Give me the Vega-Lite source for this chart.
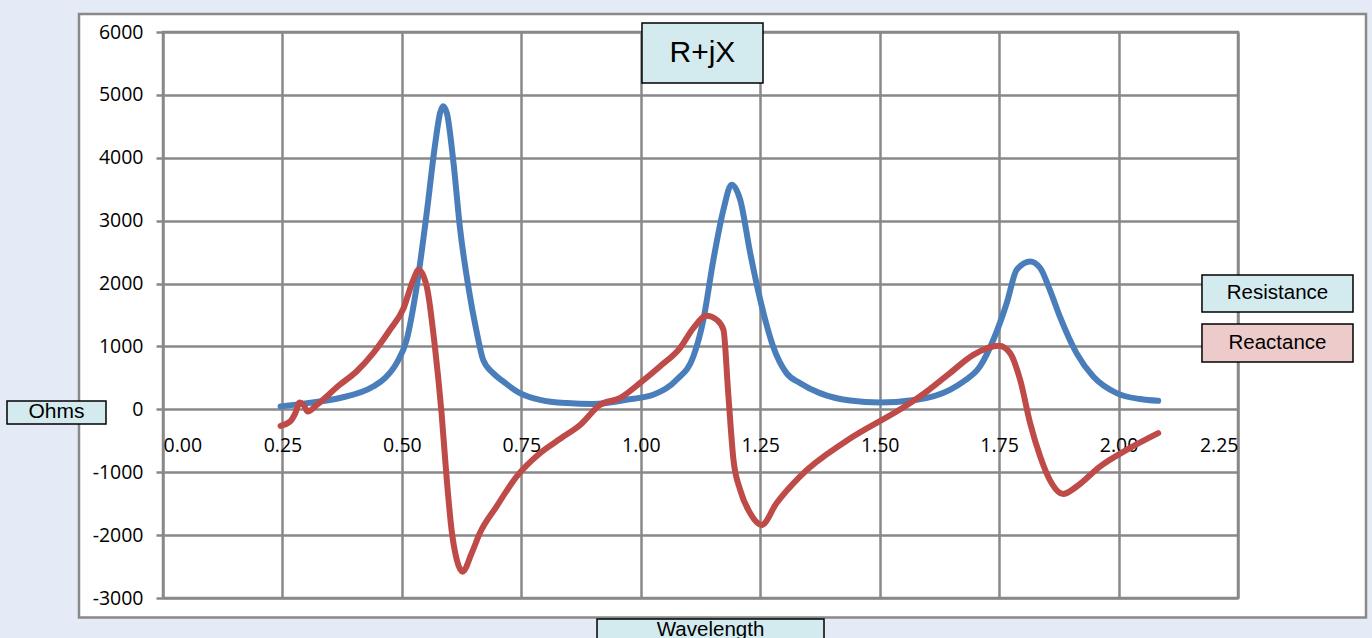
{
  "$schema": "https://vega.github.io/schema/vega-lite/v6.json",
  "width": 1075,
  "height": 566,
  "autosize": {"type": "none"},
  "padding": {"left": 163, "top": 32, "right": 134, "bottom": 40},
  "background": "white",
  "config": {
    "view": {"stroke": "#898989", "strokeWidth": 2.5},
    "axis": {
      "gridColor": "#898989",
      "gridWidth": 2.5,
      "gridOpacity": 1,
      "labelFont": "Open Sans",
      "labelFontSize": 19.5,
      "labelColor": "#000000",
      "domain": false
    }
  },
  "layer": [
    {
      "data": {"values": [
        {"wl": 0.246, "ohms": 45, "series": "Resistance"},
        {"wl": 0.301, "ohms": 99, "series": "Resistance"},
        {"wl": 0.370, "ohms": 180, "series": "Resistance"},
        {"wl": 0.440, "ohms": 363, "series": "Resistance"},
        {"wl": 0.465, "ohms": 500, "series": "Resistance"},
        {"wl": 0.489, "ohms": 735, "series": "Resistance"},
        {"wl": 0.510, "ohms": 1106, "series": "Resistance"},
        {"wl": 0.531, "ohms": 1954, "series": "Resistance"},
        {"wl": 0.552, "ohms": 3123, "series": "Resistance"},
        {"wl": 0.569, "ohms": 4183, "series": "Resistance"},
        {"wl": 0.580, "ohms": 4714, "series": "Resistance"},
        {"wl": 0.586, "ohms": 4820, "series": "Resistance"},
        {"wl": 0.594, "ohms": 4714, "series": "Resistance"},
        {"wl": 0.608, "ohms": 3918, "series": "Resistance"},
        {"wl": 0.622, "ohms": 2857, "series": "Resistance"},
        {"wl": 0.639, "ohms": 1954, "series": "Resistance"},
        {"wl": 0.657, "ohms": 1213, "series": "Resistance"},
        {"wl": 0.670, "ohms": 788, "series": "Resistance"},
        {"wl": 0.691, "ohms": 576, "series": "Resistance"},
        {"wl": 0.712, "ohms": 443, "series": "Resistance"},
        {"wl": 0.747, "ohms": 258, "series": "Resistance"},
        {"wl": 0.789, "ohms": 151, "series": "Resistance"},
        {"wl": 0.845, "ohms": 99, "series": "Resistance"},
        {"wl": 0.901, "ohms": 85, "series": "Resistance"},
        {"wl": 0.970, "ohms": 151, "series": "Resistance"},
        {"wl": 1.026, "ohms": 231, "series": "Resistance"},
        {"wl": 1.075, "ohms": 470, "series": "Resistance"},
        {"wl": 1.110, "ohms": 840, "series": "Resistance"},
        {"wl": 1.131, "ohms": 1424, "series": "Resistance"},
        {"wl": 1.152, "ohms": 2379, "series": "Resistance"},
        {"wl": 1.173, "ohms": 3175, "series": "Resistance"},
        {"wl": 1.190, "ohms": 3573, "series": "Resistance"},
        {"wl": 1.208, "ohms": 3334, "series": "Resistance"},
        {"wl": 1.229, "ohms": 2486, "series": "Resistance"},
        {"wl": 1.250, "ohms": 1743, "series": "Resistance"},
        {"wl": 1.277, "ohms": 1000, "series": "Resistance"},
        {"wl": 1.305, "ohms": 576, "series": "Resistance"},
        {"wl": 1.333, "ohms": 420, "series": "Resistance"},
        {"wl": 1.375, "ohms": 258, "series": "Resistance"},
        {"wl": 1.438, "ohms": 140, "series": "Resistance"},
        {"wl": 1.501, "ohms": 108, "series": "Resistance"},
        {"wl": 1.577, "ohms": 151, "series": "Resistance"},
        {"wl": 1.647, "ohms": 310, "series": "Resistance"},
        {"wl": 1.675, "ohms": 440, "series": "Resistance"},
        {"wl": 1.710, "ohms": 682, "series": "Resistance"},
        {"wl": 1.738, "ohms": 1106, "series": "Resistance"},
        {"wl": 1.766, "ohms": 1690, "series": "Resistance"},
        {"wl": 1.787, "ohms": 2220, "series": "Resistance"},
        {"wl": 1.815, "ohms": 2352, "series": "Resistance"},
        {"wl": 1.836, "ohms": 2247, "series": "Resistance"},
        {"wl": 1.856, "ohms": 1902, "series": "Resistance"},
        {"wl": 1.877, "ohms": 1477, "series": "Resistance"},
        {"wl": 1.912, "ohms": 894, "series": "Resistance"},
        {"wl": 1.947, "ohms": 522, "series": "Resistance"},
        {"wl": 1.996, "ohms": 258, "series": "Resistance"},
        {"wl": 2.045, "ohms": 163, "series": "Resistance"},
        {"wl": 2.083, "ohms": 135, "series": "Resistance"},
        {"wl": 0.246, "ohms": -263, "series": "Reactance"},
        {"wl": 0.266, "ohms": -194, "series": "Reactance"},
        {"wl": 0.277, "ohms": -61, "series": "Reactance"},
        {"wl": 0.286, "ohms": 108, "series": "Reactance"},
        {"wl": 0.294, "ohms": 72, "series": "Reactance"},
        {"wl": 0.303, "ohms": -35, "series": "Reactance"},
        {"wl": 0.322, "ohms": 72, "series": "Reactance"},
        {"wl": 0.370, "ohms": 390, "series": "Reactance"},
        {"wl": 0.405, "ohms": 602, "series": "Reactance"},
        {"wl": 0.440, "ohms": 894, "series": "Reactance"},
        {"wl": 0.475, "ohms": 1265, "series": "Reactance"},
        {"wl": 0.503, "ohms": 1600, "series": "Reactance"},
        {"wl": 0.524, "ohms": 2061, "series": "Reactance"},
        {"wl": 0.535, "ohms": 2220, "series": "Reactance"},
        {"wl": 0.552, "ohms": 1954, "series": "Reactance"},
        {"wl": 0.569, "ohms": 1000, "series": "Reactance"},
        {"wl": 0.583, "ohms": -60, "series": "Reactance"},
        {"wl": 0.594, "ohms": -1122, "series": "Reactance"},
        {"wl": 0.604, "ohms": -1918, "series": "Reactance"},
        {"wl": 0.615, "ohms": -2395, "series": "Reactance"},
        {"wl": 0.627, "ohms": -2581, "series": "Reactance"},
        {"wl": 0.646, "ohms": -2289, "series": "Reactance"},
        {"wl": 0.663, "ohms": -1971, "series": "Reactance"},
        {"wl": 0.698, "ohms": -1547, "series": "Reactance"},
        {"wl": 0.740, "ohms": -1069, "series": "Reactance"},
        {"wl": 0.789, "ohms": -697, "series": "Reactance"},
        {"wl": 0.833, "ohms": -460, "series": "Reactance"},
        {"wl": 0.873, "ohms": -250, "series": "Reactance"},
        {"wl": 0.915, "ohms": 72, "series": "Reactance"},
        {"wl": 0.956, "ohms": 178, "series": "Reactance"},
        {"wl": 0.998, "ohms": 417, "series": "Reactance"},
        {"wl": 1.040, "ohms": 682, "series": "Reactance"},
        {"wl": 1.082, "ohms": 974, "series": "Reactance"},
        {"wl": 1.110, "ohms": 1292, "series": "Reactance"},
        {"wl": 1.138, "ohms": 1488, "series": "Reactance"},
        {"wl": 1.159, "ohms": 1424, "series": "Reactance"},
        {"wl": 1.173, "ohms": 1265, "series": "Reactance"},
        {"wl": 1.183, "ohms": 258, "series": "Reactance"},
        {"wl": 1.194, "ohms": -804, "series": "Reactance"},
        {"wl": 1.208, "ohms": -1281, "series": "Reactance"},
        {"wl": 1.229, "ohms": -1652, "series": "Reactance"},
        {"wl": 1.253, "ohms": -1838, "series": "Reactance"},
        {"wl": 1.284, "ohms": -1493, "series": "Reactance"},
        {"wl": 1.333, "ohms": -1069, "series": "Reactance"},
        {"wl": 1.431, "ohms": -500, "series": "Reactance"},
        {"wl": 1.543, "ohms": 0, "series": "Reactance"},
        {"wl": 1.584, "ohms": 204, "series": "Reactance"},
        {"wl": 1.647, "ohms": 576, "series": "Reactance"},
        {"wl": 1.696, "ohms": 867, "series": "Reactance"},
        {"wl": 1.750, "ohms": 1011, "series": "Reactance"},
        {"wl": 1.773, "ohms": 894, "series": "Reactance"},
        {"wl": 1.794, "ohms": 470, "series": "Reactance"},
        {"wl": 1.815, "ohms": -220, "series": "Reactance"},
        {"wl": 1.836, "ohms": -751, "series": "Reactance"},
        {"wl": 1.856, "ohms": -1122, "series": "Reactance"},
        {"wl": 1.884, "ohms": -1345, "series": "Reactance"},
        {"wl": 1.912, "ohms": -1229, "series": "Reactance"},
        {"wl": 1.961, "ohms": -910, "series": "Reactance"},
        {"wl": 2.017, "ohms": -645, "series": "Reactance"},
        {"wl": 2.083, "ohms": -379, "series": "Reactance"}
      ]},
      "mark": {"type": "line", "interpolate": "monotone", "strokeWidth": 6, "strokeCap": "round", "strokeJoin": "round"},
      "encoding": {
        "x": {
          "field": "wl", "type": "quantitative",
          "scale": {"domain": [0, 2.25], "nice": false, "zero": false},
          "axis": {
            "title": null,
            "values": [0, 0.25, 0.5, 0.75, 1, 1.25, 1.5, 1.75, 2, 2.25],
            "format": ".2f",
            "ticks": false,
            "tickSize": 0,
            "offset": -189,
            "labelPadding": 27,
            "labelBaseline": "top"
          }
        },
        "y": {
          "field": "ohms", "type": "quantitative",
          "scale": {"domain": [-3000, 6000], "nice": false, "zero": false},
          "axis": {
            "title": null,
            "values": [-3000, -2000, -1000, 0, 1000, 2000, 3000, 4000, 5000, 6000],
            "labelExpr": "datum.value < 0 ? '-' + abs(datum.value) : '' + datum.value",
            "ticks": true,
            "tickSize": 7,
            "tickColor": "#898989",
            "tickWidth": 2.5,
            "labelPadding": 13
          }
        },
        "color": {
          "field": "series", "type": "nominal",
          "scale": {"domain": ["Resistance", "Reactance"], "range": ["#4A7EBB", "#BE4B48"]},
          "legend": null
        },
        "order": {"field": "wl", "type": "quantitative"}
      }
    },
    {
      "data": {"values": [{}]},
      "mark": {"type": "rect", "fill": "#E5EBF6"},
      "encoding": {
        "x": {"datum": -0.5, "type": "quantitative"}, "x2": {"datum": -0.1758},
        "y": {"datum": 7000, "type": "quantitative"}, "y2": {"datum": -4500}
      }
    },
    {
      "data": {"values": [{}]},
      "mark": {"type": "rect", "fill": "#E5EBF6"},
      "encoding": {
        "x": {"datum": 2.5179, "type": "quantitative"}, "x2": {"datum": 3.0},
        "y": {"datum": 7000, "type": "quantitative"}, "y2": {"datum": -4500}
      }
    },
    {
      "data": {"values": [{}]},
      "mark": {"type": "rect", "fill": "#E5EBF6"},
      "encoding": {
        "x": {"datum": -0.5, "type": "quantitative"}, "x2": {"datum": 3.0},
        "y": {"datum": 7000, "type": "quantitative"}, "y2": {"datum": 6286}
      }
    },
    {
      "data": {"values": [{}]},
      "mark": {"type": "rect", "fill": "#E5EBF6"},
      "encoding": {
        "x": {"datum": -0.5, "type": "quantitative"}, "x2": {"datum": 3.0},
        "y": {"datum": -3310, "type": "quantitative"}, "y2": {"datum": -4500}
      }
    },
    {
      "data": {"values": [{}]},
      "mark": {"type": "rect", "fillOpacity": 0, "stroke": "#898989", "strokeWidth": 2.5},
      "encoding": {
        "x": {"datum": -0.1758, "type": "quantitative"}, "x2": {"datum": 2.5179},
        "y": {"datum": 6286, "type": "quantitative"}, "y2": {"datum": -3310}
      }
    },
    {
      "data": {"values": [{}]},
      "mark": {"type": "rect", "fill": "#D3EBEF", "stroke": "#000000", "strokeWidth": 1.5},
      "encoding": {
        "x": {"datum": 1.0025, "type": "quantitative"}, "x2": {"datum": 1.2558},
        "y": {"datum": 6143, "type": "quantitative"}, "y2": {"datum": 5189}
      }
    },
    {
      "data": {"values": [{}]},
      "mark": {"type": "text", "text": "R+jX", "font": "Liberation Sans", "fontSize": 30, "color": "#000000", "align": "center", "baseline": "middle"},
      "encoding": {
        "x": {"datum": 1.129, "type": "quantitative"},
        "y": {"datum": 5666, "type": "quantitative"}
      }
    },
    {
      "data": {"values": [{}]},
      "mark": {"type": "rect", "fill": "#D3EBEF", "stroke": "#000000", "strokeWidth": 1.5},
      "encoding": {
        "x": {"datum": 2.1746, "type": "quantitative"}, "x2": {"datum": 2.4907},
        "y": {"datum": 2136, "type": "quantitative"}, "y2": {"datum": 1548}
      }
    },
    {
      "data": {"values": [{}]},
      "mark": {"type": "text", "text": "Resistance", "font": "Liberation Sans", "fontSize": 20.5, "color": "#000000", "align": "center", "baseline": "middle"},
      "encoding": {
        "x": {"datum": 2.3327, "type": "quantitative"},
        "y": {"datum": 1842, "type": "quantitative"}
      }
    },
    {
      "data": {"values": [{}]},
      "mark": {"type": "rect", "fill": "#EDCBCB", "stroke": "#000000", "strokeWidth": 1.5},
      "encoding": {
        "x": {"datum": 2.1746, "type": "quantitative"}, "x2": {"datum": 2.4907},
        "y": {"datum": 1357, "type": "quantitative"}, "y2": {"datum": 753}
      }
    },
    {
      "data": {"values": [{}]},
      "mark": {"type": "text", "text": "Reactance", "font": "Liberation Sans", "fontSize": 20.5, "color": "#000000", "align": "center", "baseline": "middle"},
      "encoding": {
        "x": {"datum": 2.3327, "type": "quantitative"},
        "y": {"datum": 1055, "type": "quantitative"}
      }
    },
    {
      "data": {"values": [{}]},
      "mark": {"type": "rect", "fill": "#D3EBEF", "stroke": "#000000", "strokeWidth": 1.5},
      "encoding": {
        "x": {"datum": -0.3265, "type": "quantitative"}, "x2": {"datum": -0.1193},
        "y": {"datum": 132, "type": "quantitative"}, "y2": {"datum": -233}
      }
    },
    {
      "data": {"values": [{}]},
      "mark": {"type": "text", "text": "Ohms", "font": "Liberation Sans", "fontSize": 21, "color": "#000000", "align": "center", "baseline": "middle"},
      "encoding": {
        "x": {"datum": -0.2229, "type": "quantitative"},
        "y": {"datum": -50, "type": "quantitative"}
      }
    },
    {
      "data": {"values": [{}]},
      "mark": {"type": "rect", "fill": "#D3EBEF", "stroke": "#000000", "strokeWidth": 1.5},
      "encoding": {
        "x": {"datum": 0.9084, "type": "quantitative"}, "x2": {"datum": 1.3835},
        "y": {"datum": -3334, "type": "quantitative"}, "y2": {"datum": -4304}
      }
    },
    {
      "data": {"values": [{}]},
      "mark": {"type": "text", "text": "Wavelength", "font": "Liberation Sans", "fontSize": 20.5, "color": "#000000", "align": "center", "baseline": "alphabetic"},
      "encoding": {
        "x": {"datum": 1.146, "type": "quantitative"},
        "y": {"datum": -3604, "type": "quantitative"}
      }
    }
  ]
}
